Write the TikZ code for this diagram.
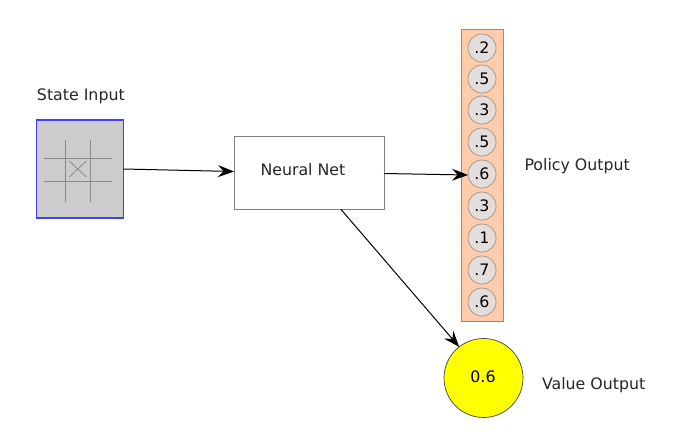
\documentclass[tikz,border=0pt]{standalone}
\usepackage{fontspec}
\setmainfont{DejaVu Sans}
\usetikzlibrary{arrows.meta,calc}
\definecolor{boxgrey}{HTML}{CCCCCC}
\definecolor{gridgrey}{HTML}{8A8A8A}
\definecolor{stripfill}{HTML}{FFCCAA}
\definecolor{stripline}{HTML}{A08878}
\definecolor{cellfill}{HTML}{E3DEDB}
\definecolor{cellline}{HTML}{A09A96}
\definecolor{netline}{HTML}{808080}
\definecolor{valuefill}{HTML}{FFFF00}
\definecolor{stateline}{HTML}{4040FF}
\tikzset{
  every node/.style={inner sep=0pt,outer sep=0pt},
  lbl/.style={font=\fontsize{15.8pt}{18pt}\selectfont,text=black!85},
  statebox/.style={draw=stateline,fill=boxgrey,line width=1.5pt,minimum width=87pt,minimum height=98pt},
  netbox/.style={draw=netline,fill=white,line width=0.7pt,minimum width=150pt,minimum height=73.5pt},
  strip/.style={draw=stripline,fill=stripfill,line width=0.8pt,minimum width=42pt,minimum height=292pt},
  cell/.style={circle,draw=cellline,fill=cellfill,line width=0.8pt,minimum size=28pt,font=\fontsize{15.8pt}{18pt}\selectfont},
  valuenode/.style={circle,draw=black!75,fill=valuefill,line width=0.7pt,minimum size=79pt,font=\fontsize{15.8pt}{18pt}\selectfont},
  gridline/.style={draw=gridgrey,line width=0.8pt},
  conn/.style={draw=black,line width=1pt,-{Stealth[length=16pt,width=12pt,inset=5.5pt]}}
}
\begin{document}
\begin{tikzpicture}[x=1pt,y=-1pt]
\useasboundingbox (0,0) rectangle (673,434);
\node[statebox] (state) at (80,169) {};
\coordinate (g1) at (65.3,140); \coordinate (g2) at (65.3,202);
\coordinate (g3) at (90.3,140); \coordinate (g4) at (90.3,202);
\coordinate (g5) at (44,158.3); \coordinate (g6) at (111.7,158.3);
\coordinate (g7) at (44,181.7); \coordinate (g8) at (111.7,181.7);
\coordinate (x1) at (69.3,161); \coordinate (x2) at (86.3,177);
\coordinate (x3) at (69.3,177); \coordinate (x4) at (86.3,161);
\draw[gridline] (g1)--(g2);
\draw[gridline] (g3)--(g4);
\draw[gridline] (g5)--(g6);
\draw[gridline] (g7)--(g8);
\draw[gridline] (x1)--(x2);
\draw[gridline] (x3)--(x4);
\node[netbox] (net) at (309,172.7) {};
\node[strip] (policy) at (482,175) {};
\node[cell] (p1) at (482,48) {.2};
\node[cell] (p2) at (482,79) {.5};
\node[cell] (p3) at (482,110) {.3};
\node[cell] (p4) at (482,142) {.5};
\node[cell] (p5) at (482,174) {.6};
\node[cell] (p6) at (482,206) {.3};
\node[cell] (p7) at (482,238) {.1};
\node[cell] (p8) at (482,270) {.7};
\node[cell] (p9) at (482,302) {.6};
\node[valuenode] (value) at (483.5,378) {\raisebox{3.5pt}{0.6\hspace{1pt}}};
\node[lbl,anchor=base west] (tstate) at (37,100.7) {State Input};
\node[lbl,anchor=base west] (tnet) at (260.5,175) {Neural Net};
\node[lbl,anchor=base west] (tpol) at (524.5,170) {Policy Output};
\node[lbl,anchor=base west] (tval) at (542,389) {Value Output};
\draw[conn] (state.east) -- ($(net.west)+(0,-1.2)$);
\draw[conn] ($(net.east)+(0,0.8)$) -- ($(p5.west)+(0,1)$);
\draw[conn] ($(net.south)+(32,0)$) -- (value.128);
\end{tikzpicture}
\end{document}
